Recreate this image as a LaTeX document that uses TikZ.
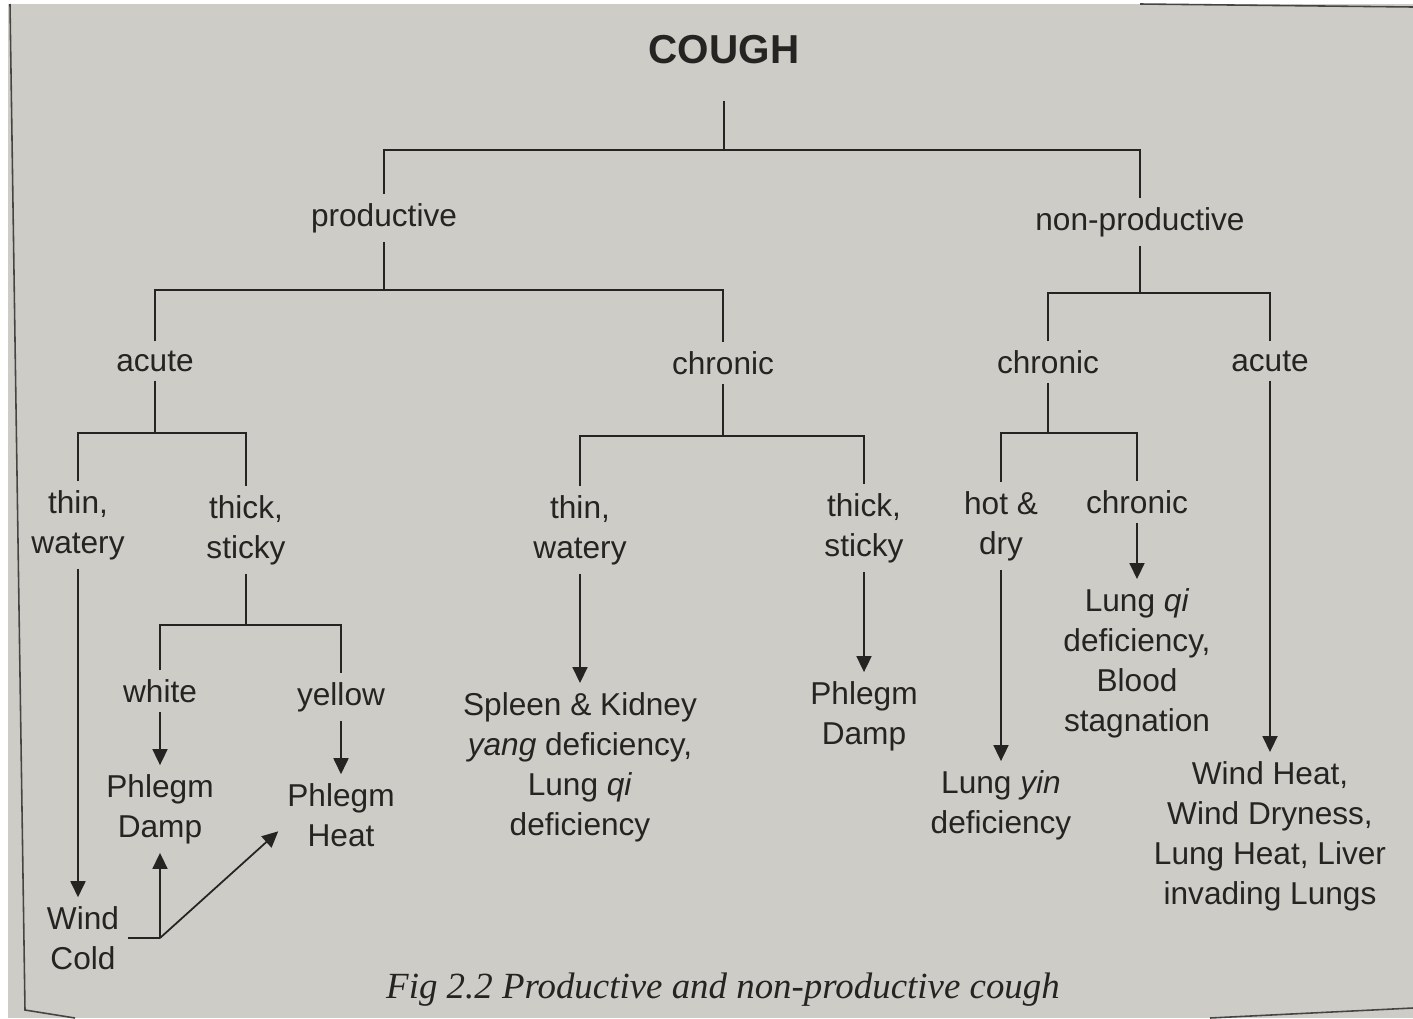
\documentclass[tikz,border=0pt]{standalone}
\usepackage{fontspec}
\setmainfont{Liberation Sans}
\newfontfamily\capfont{Liberation Serif}
\usetikzlibrary{arrows.meta}
\usetikzlibrary{calc}
\definecolor{paper}{RGB}{206,204,198}
\definecolor{ink}{RGB}{38,36,35}

\begin{document}
\begin{tikzpicture}[
    x=0.02cm, y=-0.02cm,
    >={Triangle[length=0.32cm,width=0.3cm]},
    % node styles
    lbl/.style = {
      align=center,
      inner sep=5pt,
      text=ink,
      font=\fontsize{18}{22.8}\selectfont
    },
    title/.style = {
      inner sep=5pt,
      text=ink,
      font=\fontsize{23}{27}\selectfont\bfseries
    },
    capt/.style = {text=ink, font=\capfont\itshape\fontsize{21}{25}\selectfont},
    % line styles
    tree/.style = {draw=ink, line width=1pt},
    arr/.style = {->, draw=ink, line width=1pt},
    edge/.style = {draw=ink!85, line width=0.9pt}
  ]

  % --- Page
  \useasboundingbox (0,0) rectangle (1413,1018);
  \fill[white] (0,0) rectangle (1413,1018);
  \fill[paper] (8,4) rectangle (1413,1018);
  \draw[edge] (10,4) -- (25,1010) -- (75,1018);
  \draw[edge] (1140,4) -- (1413,7);
  \draw[edge] (1210,1018) -- (1413,1008);

  % --- Nodes
  \node[title] (cough) at (724,50) {COUGH};

  \node[lbl] (prod) at (384,218) {productive};
  \node[lbl] (nonprod) at (1140,222) {non-productive};

  \node[lbl] (pacute) at (155,361) {acute};
  \node[lbl] (pchron) at (723,363) {chronic};
  \node[lbl] (nchron) at (1048,362) {chronic};
  \node[lbl] (nacute) at (1270,361) {acute};

  \node[lbl] (athin) at (78,525) {thin,\\watery};
  \node[lbl] (athick) at (246,530) {thick,\\sticky};
  \node[lbl] (white) at (160,691) {white};
  \node[lbl] (yellow) at (341,697) {yellow};
  \node[lbl] (pdampa) at (160,809) {Phlegm\\Damp};
  \node[lbl] (pheat) at (341,815) {Phlegm\\Heat};
  \node[lbl] (windcold) at (83,938) {Wind\\Cold};

  \node[lbl] (cthin) at (580,530) {thin,\\watery};
  \node[lbl] (cthick) at (864,528) {thick,\\sticky};
  \node[lbl] (skyang) at (580,767) {Spleen \& Kidney\\\textit{yang} deficiency,\\Lung \textit{qi}\\deficiency};
  \node[lbl] (pdampc) at (864,716) {Phlegm\\Damp};

  \node[lbl] (hotdry) at (1001,526) {hot \&\\dry};
  \node[lbl] (nchronb) at (1137,502) {chronic};
  \node[lbl] (lungqi) at (1137,663) {Lung \textit{qi}\\deficiency,\\Blood\\stagnation};
  \node[lbl] (lungyin) at (1001,805) {Lung \textit{yin}\\deficiency};
  \node[lbl] (windheat) at (1270,836) {Wind Heat,\\Wind Dryness,\\Lung Heat, Liver\\invading Lungs};

  \node[capt] (caption) at (723,990) {Fig 2.2 Productive and non-productive cough};

  % --- Branch points
  \coordinate (j0) at (724,150);
  \coordinate (j1) at (384,290);
  \coordinate (j2) at (1140,293);
  \coordinate (j3) at (155,433);
  \coordinate (j4) at (723,436);
  \coordinate (j5) at (1048,433);
  \coordinate (j6) at (246,625);
  \coordinate (wcj) at (pdampa |- windcold);

  % --- Tree lines
  \draw[tree, shorten <=0.55cm] (cough) -- (j0);
  \draw[tree] (prod) |- (j0) -| (nonprod);
  \draw[tree] (prod) -- (j1);
  \draw[tree] (pacute) |- (j1) -| (pchron);
  \draw[tree] (nonprod) -- (j2);
  \draw[tree] (nchron) |- (j2) -| (nacute);
  \draw[tree] (pacute) -- (j3);
  \draw[tree] (athin) |- (j3) -| (athick);
  \draw[tree] (pchron) -- (j4);
  \draw[tree] (cthin) |- (j4) -| (cthick);
  \draw[tree] (nchron) -- (j5);
  \draw[tree] (hotdry) |- (j5) -| (nchronb);
  \draw[tree] (athick) -- (j6);
  \draw[tree] (white) |- (j6) -| (yellow);

  % --- Arrows
  \draw[arr] (athin.south) -- (athin.south |- windcold.north);
  \draw[arr] (white) -- (pdampa);
  \draw[arr] (yellow) -- (pheat);
  \draw[tree] (windcold) -- (wcj);
  \draw[arr] (wcj) -- (pdampa);
  \draw[arr] (wcj) -- ($(pheat.west)!0.4!(pheat.south west)$);
  \draw[arr] (cthin) -- (skyang);
  \draw[arr] (cthick) -- (pdampc);
  \draw[arr] (hotdry) -- (lungyin);
  \draw[arr] (nchronb) -- (lungqi);
  \draw[arr] (nacute) -- (windheat);

\end{tikzpicture}
\end{document}
